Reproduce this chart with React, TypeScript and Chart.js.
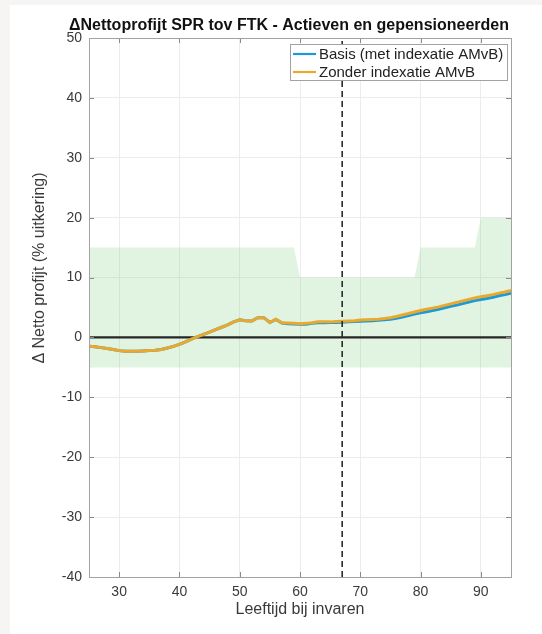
import React, { useEffect, useRef } from 'react';
import { Chart, registerables } from 'chart.js';

Chart.register(...registerables);

// ---------- data ----------
const ages = [
  25, 26, 27, 28, 29, 30, 31, 32, 33, 34, 35, 36, 37, 38, 39, 40, 41, 42, 43, 44,
  45, 46, 47, 48, 49, 50, 51, 52, 53, 54, 55, 56, 57, 58, 59, 60, 61, 62, 63, 64,
  65, 66, 67, 68, 69, 70, 71, 72, 73, 74, 75, 76, 77, 78, 79, 80, 81, 82, 83, 84,
  85, 86, 87, 88, 89, 90, 91, 92, 93, 94, 95,
];

const zonderIndexatie = [
  -1.45, -1.55, -1.7, -1.85, -2.0, -2.2, -2.3, -2.3, -2.3, -2.25, -2.2, -2.15, -2.0, -1.75, -1.5, -1.15, -0.75, -0.3, 0.15, 0.5,
  0.9, 1.3, 1.7, 2.1, 2.6, 2.95, 2.8, 2.75, 3.3, 3.3, 2.5, 3.05, 2.45, 2.4, 2.35, 2.3, 2.35, 2.45, 2.6, 2.6,
  2.6, 2.65, 2.7, 2.75, 2.8, 2.9, 2.95, 3.0, 3.05, 3.15, 3.3, 3.5, 3.75, 4.0, 4.25, 4.5, 4.7, 4.9, 5.1, 5.35,
  5.6, 5.85, 6.1, 6.35, 6.6, 6.8, 6.95, 7.15, 7.4, 7.6, 7.85,
];

const basis = [
  -1.45, -1.55, -1.7, -1.85, -2.0, -2.2, -2.3, -2.3, -2.3, -2.25, -2.2, -2.15, -2.0, -1.75, -1.5, -1.15, -0.75, -0.3, 0.15, 0.5,
  0.9, 1.3, 1.7, 2.1, 2.6, 2.95, 2.8, 2.75, 3.3, 3.3, 2.5, 3.0, 2.4, 2.3, 2.25, 2.2, 2.2, 2.35, 2.45, 2.45,
  2.5, 2.5, 2.55, 2.6, 2.65, 2.7, 2.75, 2.8, 2.85, 2.95, 3.05, 3.2, 3.4, 3.65, 3.9, 4.1, 4.3, 4.5, 4.7, 4.95,
  5.2, 5.4, 5.65, 5.9, 6.15, 6.35, 6.5, 6.7, 6.95, 7.15, 7.4,
];

const bandAges = [25, 59, 60, 79, 80, 89, 90, 95];
const bandUpper = [15, 15, 10, 10, 15, 15, 20, 20];
const bandLower = [-5, -5, -5, -5, -5, -5, -5, -5];

const referenceAge = 67;
const zeroLineAges = [25, 95];
const zeroLineValues = [0, 0];

const xMin = 25;
const xMax = 95;
const xTickValues = [30, 40, 50, 60, 70, 80, 90];
const yMin = -40;
const yMax = 50;
const yStep = 10;

const seriesLabels = ['Basis (met indexatie AMvB)', 'Zonder indexatie AMvB'];
const titleText = 'ΔNettoprofijt SPR tov FTK - Actieven en gepensioneerden';
const xTitle = 'Leeftijd bij invaren';
const yTitle = 'Δ Netto profijt (% uitkering)';

// ---------- styles ----------
const FONT = '"Liberation Sans", Arial, Helvetica, sans-serif';
const BLUE = '#1b9ad6';
const ORANGE = '#eaa82c';
const TEXT = '#3a3a3a';

const toPoints = (xs: number[], ys: number[]) => xs.map((x, i) => ({ x, y: ys[i] }));

const decorPlugin = {
  id: 'decor',
  beforeDraw(chart: any) {
    const ctx = chart.ctx;
    ctx.save();
    ctx.fillStyle = '#f6f5f3';
    ctx.fillRect(0, 0, chart.width, chart.height);
    ctx.fillStyle = '#ffffff';
    ctx.fillRect(10, 5, chart.width - 10, chart.height - 5);
    ctx.restore();
  },
  afterDraw(chart: any) {
    const { ctx, chartArea: a, scales } = chart;
    const xs = scales.x;
    const ys = scales.y;
    ctx.save();

    // inward tick marks on all four sides
    ctx.strokeStyle = '#8a8a8a';
    ctx.lineWidth = 1;
    ctx.beginPath();
    xs.ticks.forEach((t: any) => {
      const px = Math.round(xs.getPixelForValue(t.value)) + 0.5;
      ctx.moveTo(px, a.bottom);
      ctx.lineTo(px, a.bottom - 5);
      ctx.moveTo(px, a.top);
      ctx.lineTo(px, a.top + 5);
    });
    ys.ticks.forEach((t: any) => {
      const py = Math.round(ys.getPixelForValue(t.value)) + 0.5;
      ctx.moveTo(a.left, py);
      ctx.lineTo(a.left + 5, py);
      ctx.moveTo(a.right, py);
      ctx.lineTo(a.right - 5, py);
    });
    ctx.stroke();

    // axes box
    ctx.strokeStyle = '#a2a2a2';
    ctx.strokeRect(Math.round(a.left) + 0.5, Math.round(a.top) + 0.5, Math.round(a.width), Math.round(a.height));

    // title
    ctx.fillStyle = '#111111';
    ctx.font = `bold 16px ${FONT}`;
    ctx.textAlign = 'center';
    ctx.textBaseline = 'middle';
    ctx.fillText(titleText, 289, 26);

    // x-axis title
    ctx.fillStyle = TEXT;
    ctx.font = `16px ${FONT}`;
    ctx.fillText(xTitle, (a.left + a.right) / 2, 610);

    // y-axis title
    ctx.save();
    ctx.translate(40, 268);
    ctx.rotate(-Math.PI / 2);
    ctx.fillText(yTitle, 0, 0);
    ctx.restore();

    // legend
    const lx = 290.5;
    const ly = 44.5;
    const lw = 217;
    const lh = 36;
    ctx.fillStyle = '#ffffff';
    ctx.fillRect(lx, ly, lw, lh);
    ctx.strokeStyle = '#a2a2a2';
    ctx.lineWidth = 1;
    ctx.strokeRect(lx, ly, lw, lh);
    const entries = [
      { label: seriesLabels[0], color: BLUE, y: 54 },
      { label: seriesLabels[1], color: ORANGE, y: 72 },
    ];
    ctx.font = `15px ${FONT}`;
    ctx.textAlign = 'left';
    ctx.textBaseline = 'middle';
    entries.forEach((e) => {
      ctx.strokeStyle = e.color;
      ctx.lineWidth = 2.2;
      ctx.beginPath();
      ctx.moveTo(293, e.y);
      ctx.lineTo(316, e.y);
      ctx.stroke();
      ctx.fillStyle = '#222222';
      ctx.fillText(e.label, 319, e.y + 0.5);
    });

    ctx.restore();
  },
};

export default function App() {
  const canvasRef = useRef<HTMLCanvasElement | null>(null);

  useEffect(() => {
    if (!canvasRef.current) return;
    const chart = new Chart(canvasRef.current, {
      type: 'line',
      data: {
        datasets: [
          {
            label: 'referentie',
            data: toPoints([referenceAge, referenceAge], [yMin, yMax]),
            borderColor: '#2a2a2a',
            borderWidth: 1.6,
            borderDash: [6, 4],
            pointRadius: 0,
            fill: false,
          },
          {
            label: seriesLabels[1],
            data: toPoints(ages, zonderIndexatie),
            borderColor: ORANGE,
            borderWidth: 3,
            pointRadius: 0,
            tension: 0,
            fill: false,
          },
          {
            label: seriesLabels[0],
            data: toPoints(ages, basis),
            borderColor: BLUE,
            borderWidth: 3,
            pointRadius: 0,
            tension: 0,
            fill: false,
          },
          {
            label: 'nul',
            data: toPoints(zeroLineAges, zeroLineValues),
            borderColor: '#262626',
            borderWidth: 2.2,
            pointRadius: 0,
            fill: false,
          },
          {
            label: 'band boven',
            data: toPoints(bandAges, bandUpper),
            borderWidth: 0,
            borderColor: 'rgba(0,0,0,0)',
            backgroundColor: 'rgba(120,200,120,0.22)',
            pointRadius: 0,
            tension: 0,
            fill: '+1',
          },
          {
            label: 'band onder',
            data: toPoints(bandAges, bandLower),
            borderWidth: 0,
            borderColor: 'rgba(0,0,0,0)',
            pointRadius: 0,
            fill: false,
          },
        ],
      },
      options: {
        animation: false,
        responsive: false,
        maintainAspectRatio: false,
        events: [],
        layout: { padding: { left: 0, right: 31, top: 38, bottom: 0 } },
        plugins: {
          legend: { display: false },
          title: { display: false },
          tooltip: { enabled: false },
        },
        scales: {
          x: {
            type: 'linear',
            min: xMin,
            max: xMax,
            afterBuildTicks: (scale: any) => {
              scale.ticks = xTickValues.map((v) => ({ value: v }));
            },
            afterFit: (scale: any) => {
              scale.height = 57;
            },
            grid: { color: '#ececec', drawTicks: false, lineWidth: 1 },
            border: { display: false },
            ticks: {
              padding: 7,
              color: TEXT,
              font: { family: FONT, size: 14 },
              maxRotation: 0,
              autoSkip: false,
            },
          },
          y: {
            type: 'linear',
            min: yMin,
            max: yMax,
            afterFit: (scale: any) => {
              scale.width = 89;
            },
            grid: { color: '#ececec', drawTicks: false, lineWidth: 1 },
            border: { display: false },
            ticks: {
              stepSize: yStep,
              padding: 7,
              color: TEXT,
              font: { family: FONT, size: 14 },
            },
          },
        },
      },
      plugins: [decorPlugin],
    });
    return () => chart.destroy();
  }, []);

  return (
    <div style={{ position: 'absolute', left: 0, top: 0, width: 542, height: 634 }}>
      <canvas ref={canvasRef} width={542} height={634} style={{ display: 'block', width: 542, height: 634 }} />
    </div>
  );
}
